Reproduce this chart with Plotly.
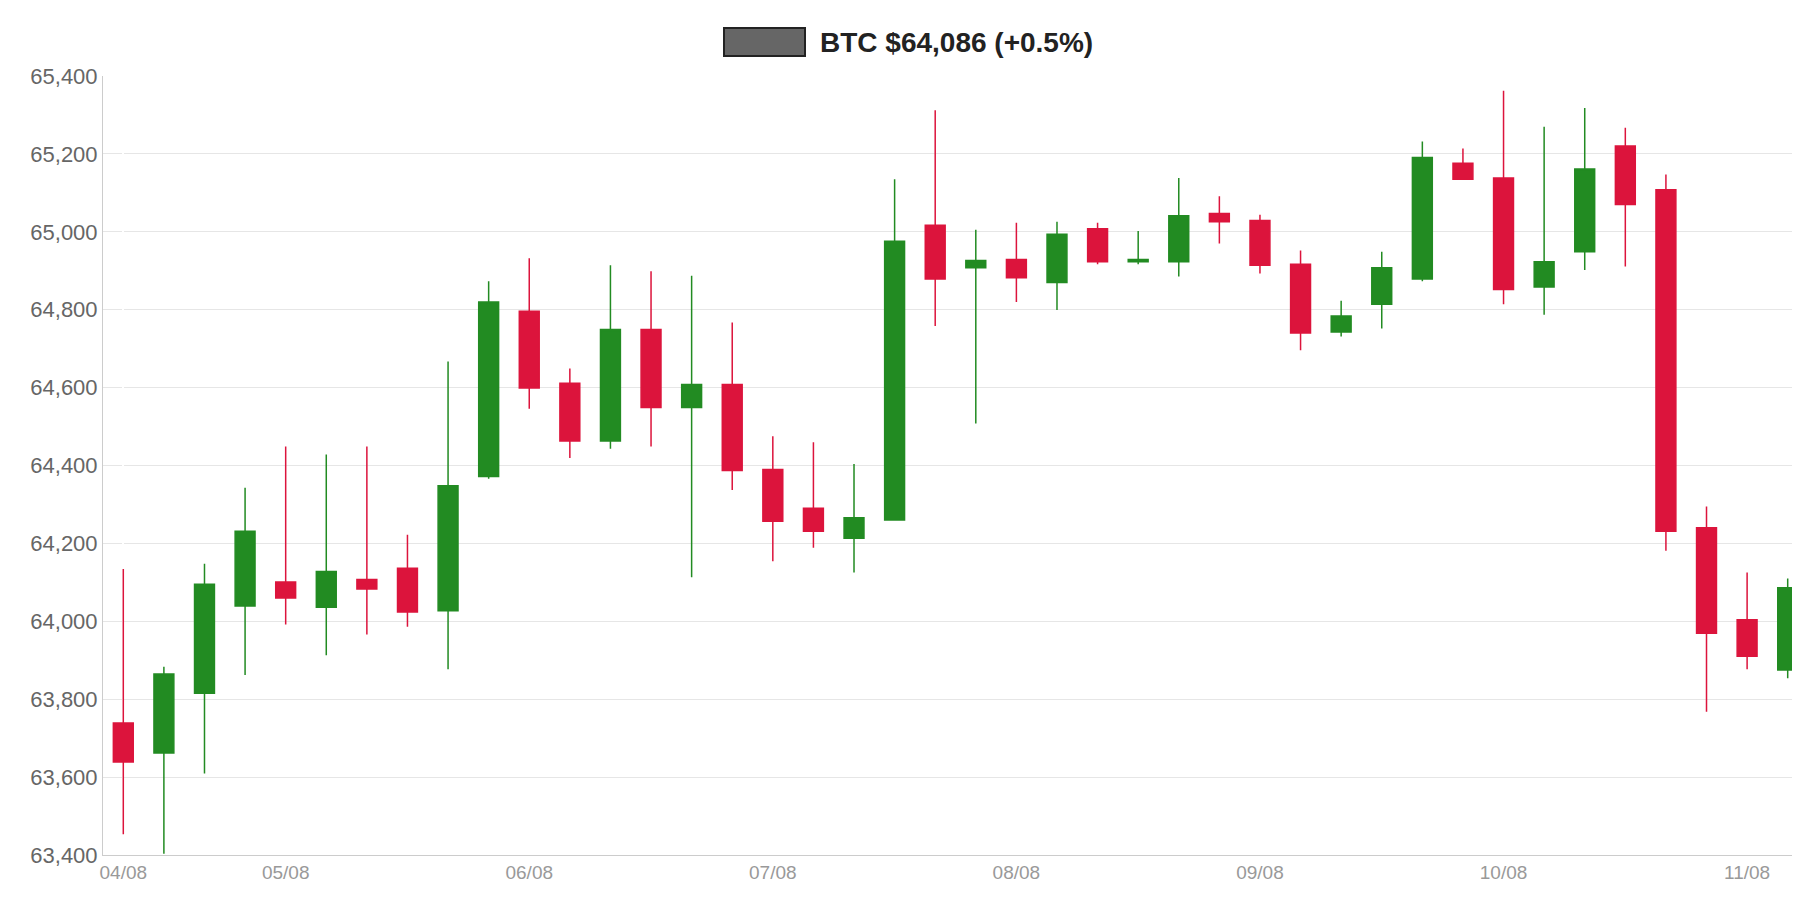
import plotly.graph_objects as go

idx = list(range(42))
opens = [63739,63662,63815,64039,64101,64036,64107,64136,64027,64372,64796,64611,64463,64749,64549,64608,64390,64290,64213,64260,65017,64908,64929,64870,65008,64923,64923,65047,65029,64917,64743,64814,64879,65176,65138,64858,64949,65220,65108,64240,64004,63875]
closes = [63639,63865,64095,64231,64060,64128,64083,64024,64348,64820,64599,64463,64749,64549,64608,64387,64257,64231,64266,64976,64879,64926,64882,64994,64923,64929,65041,65026,64914,64740,64784,64908,65191,65135,64852,64923,65161,65070,64231,63969,63910,64086]
highs = [64134,63883,64148,64343,64449,64428,64449,64222,64667,64873,64932,64649,64914,64899,64887,64767,64475,64460,64404,65135,65312,65005,65023,65026,65023,65002,65138,65091,65044,64952,64823,64949,65232,65214,65362,65270,65318,65267,65147,64295,64125,64110]
lows = [63453,63403,63609,63862,63992,63913,63966,63986,63877,64366,64546,64419,64443,64449,64113,64337,64154,64189,64125,64260,64758,64508,64820,64799,64917,64917,64885,64970,64893,64696,64731,64752,64873,65135,64814,64787,64902,64911,64181,63768,63877,63854]
tick_pos = [0,4,10,16,22,28,34,40]
tick_text = ["04/08","05/08","06/08","07/08","08/08","09/08","10/08","11/08"]
title_text = "BTC $64,086 (+0.5%)"

fig = go.Figure(go.Candlestick(
    x=idx, open=opens, high=highs, low=lows, close=closes,
    increasing=dict(line=dict(color="#228B22", width=1.5), fillcolor="#228B22"),
    decreasing=dict(line=dict(color="#DC143C", width=1.5), fillcolor="#DC143C"),
    whiskerwidth=0, showlegend=False))

fig.update_layout(
    width=1800, height=900, paper_bgcolor="white", plot_bgcolor="white",
    margin=dict(l=95, r=0, t=68, b=53),
    font=dict(family="Liberation Sans, Arial, sans-serif"),
    xaxis=dict(range=[-0.5, 41.5], rangeslider=dict(visible=False), tickmode="array",
               tickvals=tick_pos, ticktext=tick_text, showgrid=False,
               tickfont=dict(size=19, color="#999999"), showline=True, linecolor="#cccccc",
               ticks="", ticklen=0),
    yaxis=dict(range=[63400, 65400], dtick=200, tickformat=",d", gridcolor="#e6e6e6",
               tickfont=dict(size=22, color="#666666"), showline=True, linecolor="#cccccc",
               zeroline=False),
)
fig.add_shape(type="rect", xref="paper", yref="paper", x0=(716-95)/1705, x1=(797-95)/1705,
              y0=1+(68-48)/779, y1=1+(68-20)/779, fillcolor="#666666", line=dict(color="#222222", width=2))
fig.add_annotation(xref="paper", yref="paper", x=(810-95)/1705, y=1+(68-34)/779,
                   xanchor="left", yanchor="middle", showarrow=False,
                   text="<b>"+title_text+"</b>", font=dict(size=28, color="#222222"))
fig.write_html("out.html")
